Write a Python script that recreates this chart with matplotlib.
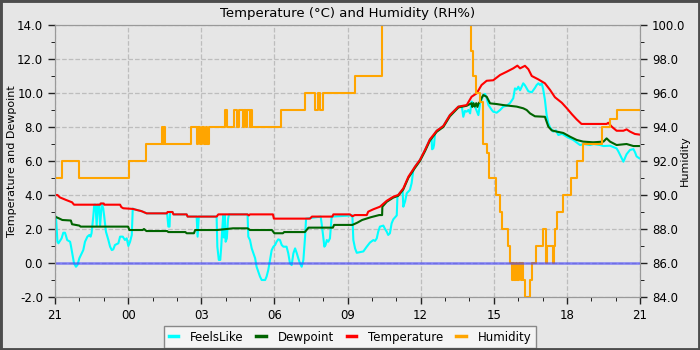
import numpy as np
import matplotlib
matplotlib.use("Agg")
import matplotlib.pyplot as plt
from matplotlib.patches import Rectangle
from matplotlib.ticker import MultipleLocator, FormatStrFormatter

# hours since 21:00
hour_labels = ["21", "00", "03", "06", "09", "12", "15", "18", "21"]

temp_t = [0.0, 0.1, 0.2, 0.45, 0.7, 0.78, 1.85, 1.87, 2.0, 2.02, 2.67, 2.72, 2.8, 3.2, 3.3, 3.55,
          3.76, 4.58, 4.62, 4.82, 4.86, 5.4, 5.44, 6.63, 6.7, 7.9, 7.95, 8.0, 8.94, 8.98, 10.46,
          10.54, 11.38, 11.42, 12.1, 12.2, 12.3, 12.79, 12.85, 13.06, 13.33, 13.61, 13.88, 14.08,
          14.29, 14.5, 14.77, 14.97, 15.18, 15.38, 15.66, 15.93, 16.2, 16.55, 16.89, 17.09, 17.3,
          17.5, 17.71, 17.98, 18.26, 18.53, 18.8, 18.97, 19.08, 19.28, 19.42, 19.56, 19.83, 20.1,
          20.31, 20.51, 20.79, 21.0, 21.2, 21.4, 21.6, 22.63, 22.7, 22.84, 23.04, 23.32, 23.45,
          23.59, 23.79, 24.0]
temp_v = [4.0, 4.0, 3.86, 3.71, 3.57, 3.43, 3.43, 3.5, 3.5, 3.43, 3.43, 3.29, 3.22, 3.18, 3.14, 3.05,
          2.92, 2.92, 3.0, 3.0, 2.86, 2.86, 2.73, 2.73, 2.86, 2.86, 2.8, 2.86, 2.86, 2.61, 2.61,
          2.73, 2.73, 2.86, 2.86, 2.75, 2.82, 2.82, 3.02, 3.16, 3.31, 3.66, 3.9, 4.0,
          4.39, 5.08, 5.67, 6.06, 6.65, 7.27, 7.78, 8.06, 8.7, 9.2, 9.29, 9.78, 9.98,
          10.47, 10.72, 10.75, 11.06, 11.25, 11.45, 11.61, 11.45, 11.6, 11.4, 11.0, 10.8, 10.57,
          10.18, 9.75, 9.43, 9.1, 8.76, 8.45, 8.18, 8.18, 8.25, 8.02, 7.78, 7.78, 7.86,
          7.73, 7.59, 7.55]

dew_t = [0.0, 0.2, 0.3, 0.65, 0.7, 1.0, 1.05, 3.0, 3.05, 3.6, 3.65, 3.75, 4.6, 4.65, 5.35, 5.4,
         5.7, 5.75, 6.65, 7.3, 7.9, 8.0, 8.9, 9.0, 9.35, 9.4, 10.25, 10.4, 11.4, 11.45, 12.2,
         12.4, 12.6, 12.95, 13.3, 13.42, 13.43, 13.61, 13.88, 14.08, 14.29, 14.5, 14.77, 14.97,
         15.18, 15.38, 15.66, 15.93, 16.2, 16.55, 16.89, 17.09, 17.12, 17.17, 17.22, 17.28,
         17.33, 17.38, 17.44, 17.5, 17.57, 17.71, 17.85, 18.12, 18.39, 18.94, 19.21, 19.35,
         19.49, 19.69, 20.1, 20.17, 20.24, 20.38, 20.58, 20.85, 21.13, 21.4, 21.67, 22.08,
         22.5, 22.63, 22.77, 23.04, 23.45, 23.73, 24.0]
dew_v = [2.73, 2.6, 2.53, 2.5, 2.28, 2.2, 2.14, 2.14, 1.94, 1.94, 2.0, 1.88, 1.88, 1.82, 1.82, 1.75,
         1.75, 1.94, 1.94, 2.04, 2.04, 1.94, 1.94, 1.75, 1.75, 1.82, 1.82, 2.08, 2.08, 2.24, 2.24,
         2.37, 2.53, 2.69, 2.82, 2.82, 3.31, 3.6, 3.85, 3.95, 4.33, 5.02, 5.6, 6.0,
         6.58, 7.2, 7.72, 8.0, 8.63, 9.15, 9.25, 9.4, 9.18, 9.4, 9.2, 9.4,
         9.18, 9.4, 9.49, 9.7, 9.88, 9.78, 9.39, 9.35, 9.29, 9.2, 9.1, 9.0,
         8.8, 8.63, 8.6, 8.31, 8.02, 7.8, 7.73, 7.65, 7.43, 7.24, 7.14, 7.1,
         7.14, 7.33, 7.14, 6.94, 7.0, 6.88, 6.88]

feels_t = [0.0, 0.04, 0.1, 0.14, 0.27, 0.34, 0.41, 0.45, 0.5, 0.62, 0.66, 0.73, 0.78, 0.86, 0.92,
           1.0, 1.09, 1.16, 1.23, 1.33, 1.41, 1.46, 1.5, 1.57, 1.61, 1.66, 1.71, 1.75, 1.8, 1.85,
           1.92, 1.98, 2.02, 2.09, 2.19, 2.26, 2.33, 2.39, 2.46, 2.6, 2.67, 2.78, 2.87, 2.94,
           3.01, 3.08, 3.15, 3.19, 3.3, 3.55, 3.76, 4.6, 4.65, 4.7, 4.72, 4.82, 4.86, 5.4, 5.44,
           5.81, 5.85, 5.9, 6.63, 6.66, 6.72, 6.78, 6.82, 6.86, 6.9, 6.93, 6.97, 7.0, 7.05, 7.1,
           7.14, 7.9, 7.93, 8.0, 8.07, 8.21, 8.27, 8.34, 8.41, 8.48, 8.62, 8.68, 8.75, 8.82,
           8.89, 8.96, 9.03, 9.09, 9.16, 9.23, 9.3, 9.37, 9.5, 9.57, 9.64, 9.71, 9.78, 9.85,
           9.92, 9.98, 10.05, 10.12, 10.19, 10.26, 10.3, 10.9, 10.94, 11.0, 11.05, 11.1, 11.15,
           11.21, 11.28, 11.32, 11.35, 12.2, 12.24, 12.31, 12.38, 12.51, 12.65, 12.79, 12.92,
           13.06, 13.13, 13.2, 13.26, 13.33, 13.47, 13.54, 13.61, 13.67, 13.74, 13.81, 13.88,
           14.02, 14.05, 14.26, 14.29, 14.36, 14.43, 14.56, 14.63, 14.7, 14.77, 14.97, 15.18,
           15.38, 15.45, 15.47, 15.52, 15.55, 15.59, 15.66, 15.93, 16.2, 16.55, 16.69, 16.75,
           16.82, 16.89, 16.96, 17.03, 17.09, 17.16, 17.23, 17.37, 17.45, 17.5, 17.57, 17.64,
           17.71, 17.78, 17.92, 17.98, 18.12, 18.26, 18.39, 18.53, 18.67, 18.8, 18.87, 18.94,
           19.01, 19.08, 19.21, 19.28, 19.35, 19.42, 19.56, 19.69, 19.76, 19.83, 19.9, 19.97,
           20.03, 20.1, 20.17, 20.24, 20.31, 20.44, 20.55, 20.65, 20.8, 20.99, 21.26, 21.54,
           21.7, 21.95, 22.1, 22.36, 22.5, 22.77, 23.04, 23.11, 23.25, 23.32, 23.45, 23.59,
           23.73, 23.8, 23.86, 23.97]
feels_v = [2.73, 2.73, 1.25, 1.16, 1.45, 1.78, 1.78, 1.6, 1.35, 1.25, 0.96, 0.37, -0.02, -0.22, -0.12,
           0.28, 0.55, 0.76, 1.25, 1.55, 1.65, 1.55, 1.75, 2.73, 3.43, 3.43, 2.2, 3.43, 3.43, 2.2,
           3.5, 3.2, 2.73, 1.84, 1.35, 0.96, 0.76, 0.8, 1.06, 1.16, 1.55, 1.55, 1.35, 1.45,
           1.0, 1.25, 1.65, 3.2, 3.14, 3.05, 2.92, 2.92, 2.14, 2.14, 3.0, 3.0, 2.86, 2.86, 2.73,
           2.73, 1.55, 2.73, 2.73, 0.96, 0.18, 0.18, 0.96, 1.94, 2.8, 1.5, 2.8, 1.25, 1.45, 2.6,
           2.86, 2.86, 1.55, 1.35, 0.86, 0.28, -0.22, -0.51, -0.8, -1.0, -1.0, -0.8, -0.41, 0.18,
           0.76, 0.96, 1.06, 1.25, 1.39, 1.35, 1.06, 0.96, 0.96, 0.57, -0.02, -0.12, 0.57, 0.86,
           0.57, 0.28, -0.02, -0.22, 0.18, 1.55, 2.61, 2.73, 2.3, 1.6, 0.96, 1.06, 1.35,
           1.25, 1.45, 2.2, 2.73, 2.8, 1.35, 0.86, 0.6, 0.64, 0.68, 0.96, 1.2,
           1.35, 1.3, 1.45, 1.84, 2.14, 2.2, 2.0, 1.84, 1.65, 1.75, 2.33, 2.57,
           2.8, 3.95, 4.3, 3.31, 3.61, 4.1, 4.3, 4.69, 5.47, 5.67, 6.06, 6.65,
           7.27, 7.35, 6.69, 6.75, 6.95, 7.65, 7.78, 8.06, 8.7, 9.2, 9.22, 8.6,
           8.95, 8.9, 9.0, 8.8, 9.5, 9.4, 9.2, 8.7, 9.5, 9.59, 9.88, 9.95,
           9.7, 9.3, 9.0, 8.9, 8.84, 9.0, 9.2, 9.25, 9.41, 9.69, 10.27, 10.2,
           10.37, 10.16, 10.57, 10.45, 10.27, 10.1, 10.04, 10.3, 10.47, 10.57, 10.47, 10.57,
           10.2, 9.59, 8.7, 8.22, 7.98, 7.73, 7.8, 7.53, 7.6, 7.43, 7.24, 6.94,
           7.0, 6.94, 7.0, 6.94, 6.88, 6.9, 6.74, 6.57, 6.16, 5.96, 6.4, 6.65,
           6.7, 6.5, 6.27, 6.16]

hum_t = [0.0, 0.29, 0.98, 3.04, 3.72, 4.39, 4.45, 4.47, 4.51, 5.58, 5.83, 5.88, 5.93, 6.05, 6.12,
         6.18, 6.22, 6.33, 6.97, 7.06, 7.34, 7.47, 7.55, 7.7, 7.75, 7.84, 7.88, 8.0, 8.04, 8.08,
         9.27, 10.26, 10.67, 10.78, 10.87, 11.0, 12.31, 13.4, 17.05, 17.14, 17.27, 17.44, 17.57,
         17.74, 17.81, 18.09, 18.26, 18.33, 18.6, 18.67, 18.75, 18.8, 18.85, 18.9, 18.95,
         19.05, 19.1, 19.15, 19.2, 19.28, 19.49, 19.57, 19.72, 20.0, 20.13, 20.17, 20.42,
         20.47, 20.51, 20.6, 20.83, 21.17, 21.4, 21.67, 22.43, 22.77, 23.04, 24.0]
hum_v = [91, 92, 91, 92, 93, 94, 93, 94, 93, 94, 93, 94, 93, 94, 93,
         94, 93, 94, 95, 94, 95, 94, 95, 94, 95, 94, 95, 94, 95, 94,
         95, 96, 95, 96, 95, 96, 97, 101, 98.5, 97, 96, 95.5, 93,
         92.5, 91, 90, 89, 88, 87, 86, 85, 86, 85, 86, 85,
         86, 85, 86, 85, 84, 85, 86, 87, 88, 86, 87, 86,
         87, 88, 89, 90, 91, 92, 93, 94, 94.5, 95, 95]

bg = "#e6e6e6"
fig = plt.figure(figsize=(7, 3.5), dpi=100, facecolor=bg)
ax = fig.add_axes([55 / 700, 1 - 297 / 350, 585 / 700, 272 / 350], facecolor=bg)
ax2 = ax.twinx()

l1, = ax.plot(feels_t, feels_v, color="#00ffff", lw=1.5, label="FeelsLike")
l2, = ax.plot(dew_t, dew_v, color="#006400", lw=1.5, label="Dewpoint")
l3, = ax.plot(temp_t, temp_v, color="#ff0000", lw=1.5, label="Temperature")
l4, = ax2.plot(hum_t, hum_v, color="orange", lw=1.5, drawstyle="steps-post", label="Humidity")
ax2.axhline(86, color="#3b3bff", lw=1.8, alpha=0.6)

ax.set_xlim(0, 24)
ax.set_ylim(-2, 14)
ax2.set_ylim(84, 100)
ax.set_xticks(np.arange(0, 25, 3))
ax.set_xticklabels(hour_labels)
ax.xaxis.set_minor_locator(MultipleLocator(1))
ax.yaxis.set_major_locator(MultipleLocator(2))
ax.yaxis.set_minor_locator(MultipleLocator(1))
ax2.yaxis.set_major_locator(MultipleLocator(2))
ax2.yaxis.set_minor_locator(MultipleLocator(1))
ax.yaxis.set_major_formatter(FormatStrFormatter("%.1f"))
ax2.yaxis.set_major_formatter(FormatStrFormatter("%.1f"))

ax.grid(True, which="major", color="#bdbdbd", linestyle="--", lw=0.9)
for a in (ax, ax2):
    a.tick_params(labelsize=8.5, length=5, width=1, color="#222222")
    a.tick_params(which="minor", length=3)
    for s in a.spines.values():
        s.set_color("#999999")

ax.set_ylabel("Temperature and Dewpoint", fontsize=8)
ax.yaxis.set_label_coords(-38 / 585, 0.5)
ax2.set_ylabel("Humidity", fontsize=8)
ax2.yaxis.set_label_coords(1 + 40 / 585, 0.5)
ax.set_title("Temperature (°C) and Humidity (RH%)", fontsize=9.5, pad=6)

leg = fig.legend(handles=[l1, l2, l3, l4], loc="lower center", ncol=4, fontsize=8.5,
                 bbox_to_anchor=(0.5, -0.012), handlelength=0.8, handletextpad=1.0,
                 columnspacing=1.1, fancybox=False, framealpha=1)
leg.get_frame().set_facecolor("#f4f4f4")
leg.get_frame().set_edgecolor("#888888")
for h in leg.legend_handles:
    h.set_linewidth(2.5)

# dark frame around the figure
fig.patches.append(Rectangle((0, 0), 1, 1, transform=fig.transFigure, fill=False,
                             edgecolor="#4d4d4d", lw=3.5, zorder=10))

fig.savefig("out.png", dpi=100, facecolor=bg)
